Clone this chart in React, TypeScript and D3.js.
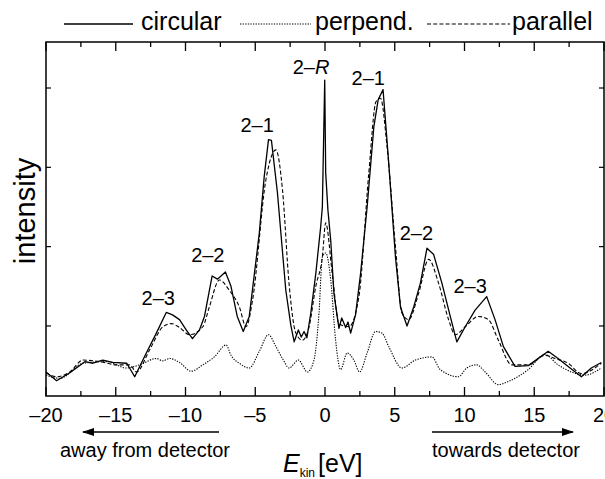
import React from "react";
import * as d3 from "d3";

// Kinetic energy (eV) and intensity (arb. units)
const circularE = [-20, -19.24, -18.29, -17.21, -16.64, -15.93, -15.21, -14.21, -13.64, -12.81, -12.09, -11.38, -10.93, -10.43, -9.95, -9.5, -9.0, -8.64, -8.09, -7.71, -7.14, -6.74, -6.29, -5.86, -5.43, -4.71, -4.36, -4.05, -3.84, -3.41, -2.81, -2.45, -2.21, -1.91, -1.7, -1.5, -1.3, -1.02, -0.66, -0.31, -0.19, -0.02, 0.05, 0.21, 0.41, 0.64, 1.0, 1.2, 1.48, 1.65, 1.84, 2.19, 2.55, 3.02, 3.5, 3.81, 4.16, 4.57, 5.05, 5.41, 5.88, 6.36, 6.84, 7.31, 7.79, 8.38, 8.98, 9.45, 10.05, 10.76, 11.59, 12.19, 12.79, 13.62, 14.57, 16.0, 16.71, 17.43, 18.38, 19.09, 19.81];
const circularI = [0.42, 0.31, 0.41, 0.55, 0.53, 0.57, 0.54, 0.53, 0.36, 0.66, 0.91, 1.17, 1.14, 1.08, 0.95, 0.84, 0.95, 1.12, 1.63, 1.59, 1.68, 1.5, 1.12, 0.93, 1.12, 2.17, 2.88, 3.35, 3.34, 2.68, 1.45, 1.01, 0.8, 0.95, 0.86, 0.93, 0.85, 1.16, 1.66, 2.25, 2.5, 4.1, 2.93, 2.46, 2.08, 1.41, 0.97, 1.1, 0.98, 1.05, 0.91, 1.14, 1.66, 2.5, 3.51, 3.85, 3.98, 3.05, 1.87, 1.24, 1.0, 1.24, 1.54, 1.98, 1.9, 1.54, 1.12, 0.8, 0.99, 1.2, 1.37, 1.08, 0.74, 0.49, 0.5, 0.68, 0.59, 0.49, 0.36, 0.47, 0.54];

const perpendE = [-20, -19, -17.34, -15.66, -14.24, -13.29, -12.09, -11.62, -11.14, -10.43, -9.59, -8.76, -7.93, -7.09, -6.74, -6.14, -5.43, -4.71, -4.05, -3.52, -3.05, -2.57, -1.91, -1.26, -0.79, -0.43, -0.19, 0.05, 0.41, 0.76, 1.12, 1.59, 2.07, 2.48, 3.02, 3.62, 4.09, 4.57, 5.52, 6.48, 7.66, 8.26, 9.57, 10.16, 10.88, 11.48, 12.43, 13.14, 14.57, 15.76, 16.71, 17.66, 18.62, 19.81];
const perpendI = [0.38, 0.34, 0.53, 0.55, 0.47, 0.51, 0.59, 0.56, 0.59, 0.54, 0.43, 0.51, 0.61, 0.76, 0.63, 0.53, 0.47, 0.68, 0.89, 0.74, 0.59, 0.47, 0.57, 0.42, 0.57, 1.16, 1.87, 1.92, 1.58, 0.82, 0.45, 0.66, 0.57, 0.42, 0.66, 0.93, 0.91, 0.74, 0.47, 0.57, 0.61, 0.45, 0.36, 0.47, 0.51, 0.42, 0.26, 0.3, 0.45, 0.64, 0.51, 0.42, 0.38, 0.47];

const parallelE = [-20, -19.24, -18.29, -17.34, -16.14, -14.95, -14.0, -13.52, -12.57, -11.62, -11.02, -10.43, -9.71, -8.76, -8.29, -7.57, -6.86, -6.14, -5.66, -5.19, -4.24, -3.52, -3.05, -2.57, -2.09, -1.62, -1.14, -0.66, -0.19, 0.05, 0.52, 1.0, 1.71, 2.43, 3.14, 3.66, 3.98, 4.45, 5.05, 5.52, 6.0, 6.71, 7.43, 8.14, 8.86, 9.34, 10.05, 11.0, 11.71, 12.43, 13.38, 14.57, 15.76, 16.48, 17.43, 18.38, 19.81];
const parallelI = [0.41, 0.36, 0.42, 0.57, 0.55, 0.51, 0.51, 0.42, 0.7, 0.99, 1.03, 0.98, 0.89, 0.99, 1.24, 1.58, 1.45, 1.24, 0.99, 1.33, 2.84, 3.22, 2.72, 1.52, 0.91, 0.82, 0.99, 1.5, 1.87, 2.3, 1.66, 1.03, 0.99, 1.37, 2.93, 3.83, 3.87, 3.26, 2.0, 1.16, 1.08, 1.41, 1.84, 1.54, 1.08, 0.89, 0.99, 1.12, 1.08, 0.82, 0.51, 0.51, 0.63, 0.59, 0.53, 0.4, 0.53];

const xTicks = [-20, -15, -10, -5, 0, 5, 10, 15, 20];
const xMinorTicks = [-17.5, -12.5, -7.5, -2.5, 2.5, 7.5, 12.5, 17.5];
const yTicks = [1, 2, 3, 4];

const peakLabels = [
  { e: -11.95, i: 1.26, t: "2–3" },
  { e: -8.4, i: 1.81, t: "2–2" },
  { e: -4.86, i: 3.45, t: "2–1" },
  { e: 3.1, i: 4.04, t: "2–1" },
  { e: 6.55, i: 2.09, t: "2–2" },
  { e: 10.4, i: 1.41, t: "2–3" },
];

const seriesNames = ["circular", "perpend.", "parallel"];

const FONT = "'Liberation Sans', Arial, Helvetica, sans-serif";

export default function App() {
  const W = 605, H = 479;
  const left = 46, right = 604, top = 42, bottom = 396;
  const x = d3.scaleLinear().domain([-20, 20]).range([left, right]);
  const y = d3.scaleLinear().domain([0.117, 4.58]).range([bottom, top]);

  const mk = (es: number[], is: number[], curve: d3.CurveFactory) =>
    d3.line<number>().x((_, k) => x(es[k])).y((v) => y(v)).curve(curve)(is) || "";

  const dashes = ["none", "1.3,1.3", "4,2.2"];
  const widths = [1.3, 1.1, 1.1];
  const paths = [
    mk(circularE, circularI, d3.curveLinear),
    mk(perpendE, perpendI, d3.curveMonotoneX),
    mk(parallelE, parallelI, d3.curveMonotoneX),
  ];

  const legendLines = [[64, 133], [240, 311], [427, 510]];
  const legendText = [141, 315, 512];

  const ticks: JSX.Element[] = [];
  xTicks.forEach((t, k) => {
    const px = x(t);
    ticks.push(<line key={"xb" + k} x1={px} x2={px} y1={bottom} y2={bottom - 9} stroke="#000" strokeWidth={1.3} />);
    ticks.push(<line key={"xt" + k} x1={px} x2={px} y1={top} y2={top + 9} stroke="#000" strokeWidth={1.3} />);
  });
  xMinorTicks.forEach((t, k) => {
    const px = x(t);
    ticks.push(<line key={"mb" + k} x1={px} x2={px} y1={bottom} y2={bottom - 5} stroke="#000" strokeWidth={1.3} />);
    ticks.push(<line key={"mt" + k} x1={px} x2={px} y1={top} y2={top + 5} stroke="#000" strokeWidth={1.3} />);
  });
  yTicks.forEach((t, k) => {
    const py = y(t);
    ticks.push(<line key={"yl" + k} x1={left} x2={left + 5} y1={py} y2={py} stroke="#000" strokeWidth={1.2} />);
    ticks.push(<line key={"yr" + k} x1={right} x2={right - 5} y1={py} y2={py} stroke="#000" strokeWidth={1.2} />);
  });

  return (
    <svg width={W} height={H} style={{ position: "absolute", left: 0, top: 0, background: "#fff" }} fontFamily={FONT}>
      <rect width={W} height={H} fill="#fff" />
      <defs>
        <clipPath id="plotclip">
          <rect x={left} y={top} width={right - left} height={bottom - top} />
        </clipPath>
        <marker id="ah" viewBox="0 0 12 8" refX="11" refY="4" markerWidth="12" markerHeight="8" markerUnits="userSpaceOnUse" orient="auto">
          <path d="M0,0 L12,4 L0,8 Z" fill="#000" />
        </marker>
      </defs>

      {/* legend */}
      {seriesNames.map((n, k) => (
        <g key={n}>
          <line x1={legendLines[k][0]} x2={legendLines[k][1]} y1={24} y2={24} stroke="#000" strokeWidth={widths[k]} strokeDasharray={dashes[k]} />
          <text x={legendText[k]} y={30} fontSize={25}>{n}</text>
        </g>
      ))}

      <g clipPath="url(#plotclip)">
        {paths.map((d, k) => (
          <path key={k} d={d} fill="none" stroke="#000" strokeWidth={widths[k]} strokeDasharray={dashes[k]} strokeLinejoin="round" />
        ))}
      </g>

      <rect x={left} y={top} width={right - left} height={bottom - top} fill="none" stroke="#000" strokeWidth={1.5} />
      {ticks}

      {xTicks.map((t) => (
        <text key={t} x={x(t)} y={422} fontSize={20} textAnchor="middle">{t < 0 ? "–" + Math.abs(t) : String(t)}</text>
      ))}

      {peakLabels.map((p, k) => (
        <text key={k} x={x(p.e)} y={y(p.i)} fontSize={20} textAnchor="middle">{p.t}</text>
      ))}
      <text x={x(-1.0)} y={y(4.18)} fontSize={20} textAnchor="middle">2–<tspan fontStyle="italic">R</tspan></text>

      <text transform={`translate(35,211) rotate(-90)`} fontSize={29} textAnchor="middle">intensity</text>

      {/* arrows */}
      <line x1={219} x2={83} y1={432} y2={432} stroke="#000" strokeWidth={1.5} markerEnd="url(#ah)" />
      <line x1={432} x2={573} y1={432} y2={432} stroke="#000" strokeWidth={1.5} markerEnd="url(#ah)" />
      <text x={145} y={457} fontSize={20} textAnchor="middle">away from detector</text>
      <text x={506} y={457} fontSize={20} textAnchor="middle">towards detector</text>

      <text x={283} y={472} fontSize={25}>
        <tspan fontStyle="italic">E</tspan>
        <tspan fontSize={12} dy={5}>kin</tspan>
        <tspan dy={-5} dx={3}>[eV]</tspan>
      </text>
    </svg>
  );
}
